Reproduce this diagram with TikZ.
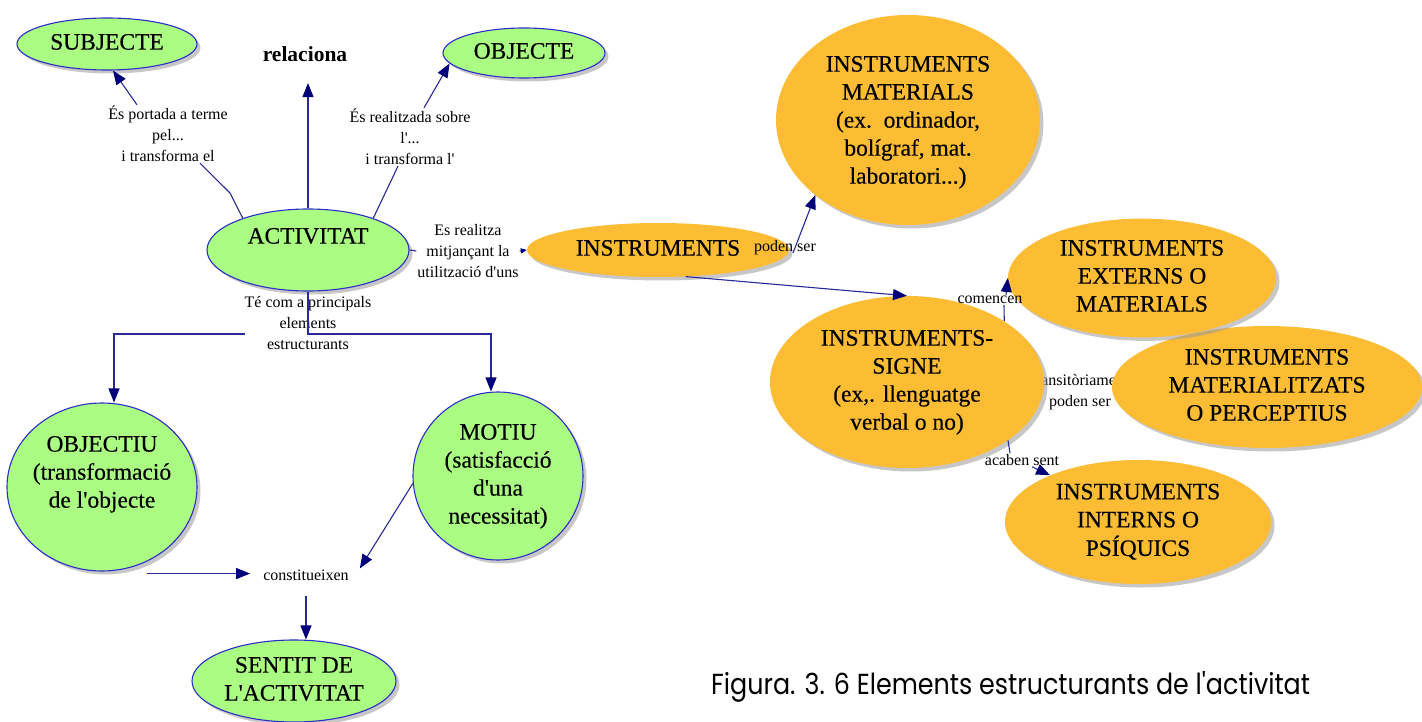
\documentclass[tikz,border=0pt]{standalone}
\usepackage{fontspec}
\setmainfont{Liberation Serif}[Ligatures=TeXOff]
\newfontfamily\conceptfont{Liberation Serif}[Ligatures=TeXOff,FakeBold=0.35]
\newfontfamily\capfont{Poppins}
\usetikzlibrary{shapes.geometric,arrows.meta,shadows}
\definecolor{leaf}{RGB}{170,252,130}
\definecolor{rim}{RGB}{45,45,200}
\definecolor{amber}{RGB}{252,188,52}
\definecolor{wire}{RGB}{40,40,150}
\definecolor{tipc}{RGB}{0,0,120}
% centred multi-line text of zero width, optionally raised
\newcommand\cellstack[2][0pt]{\makebox[0pt]{\raisebox{#1}[\height][\depth]{\begin{tabular}{@{}c@{}}#2\end{tabular}}}}
\begin{document}
\begin{tikzpicture}[x=1pt,y=-1pt,
  softshadow/.style={drop shadow={shadow xshift=3.5pt,shadow yshift=-3.5pt,fill=black!40,opacity=0.55}},
  green ell/.style={ellipse, draw=rim, line width=1.1pt, fill=leaf, inner sep=0pt,
    font=\conceptfont\fontsize{23.5}{28}\selectfont, softshadow},
  amber ell/.style={ellipse, fill=amber, inner sep=0pt,
    font=\conceptfont\fontsize{23.5}{28}\selectfont, softshadow},
  tag/.style={font=\fontsize{16}{21}\selectfont, align=center, inner sep=1pt},
  wirel/.style={draw=wire, line width=1.1pt},
  link/.style={wirel, -{Triangle[length=14pt,width=11pt,color=tipc]}},
  small link/.style={wirel, -{Triangle[length=6pt,width=5pt,color=tipc]}},
]
\useasboundingbox (0,0) rectangle (1422,722);

% ---- phrase that sits partly under the ellipses
\node[tag] (ltra) at (1080,392) {transitòriament\\poden ser};

% ---- green concepts
\node[green ell, minimum width=180pt, minimum height=52pt] (subjecte) at (107,44) {\cellstack{SUBJECTE}};
\node[font=\fontsize{21.5}{24}\selectfont\bfseries] (relaciona) at (305,54) {relaciona};
\node[green ell, minimum width=162pt, minimum height=50pt] (objecte) at (524,53) {\cellstack{OBJECTE}};
\node[green ell, minimum width=202pt, minimum height=82pt] (activitat) at (308,250) {\cellstack[12pt]{ACTIVITAT}};
\node[green ell, minimum width=190pt, minimum height=168pt] (objectiu) at (102,487) {\cellstack[13pt]{OBJECTIU\\(transformació\\de l'objecte}};
\node[green ell, minimum width=170pt, minimum height=168pt] (motiu) at (498,476) {\cellstack{MOTIU\\(satisfacció\\d'una\\necessitat)}};
\node[green ell, minimum width=204pt, minimum height=82pt] (sentit) at (294,681) {\cellstack{SENTIT DE\\L'ACTIVITAT}};

% ---- amber concepts
\node[amber ell, minimum width=262pt, minimum height=54pt] (instruments) at (658,250) {\cellstack{INSTRUMENTS}};
\node[amber ell, minimum width=264pt, minimum height=210pt] (materials) at (908,120) {\cellstack[-2pt]{INSTRUMENTS\\MATERIALS\\(ex.\ \ ordinador,\\bolígraf, mat.\\laboratori...)}};
\node[amber ell, minimum width=310pt, minimum height=122pt] (materialitzats) at (1267,387) {\cellstack{INSTRUMENTS\\MATERIALITZATS\\O PERCEPTIUS}};
\node[amber ell, minimum width=268pt, minimum height=116pt] (externs) at (1142,278) {\cellstack{INSTRUMENTS\\EXTERNS O\\MATERIALS}};
\node[amber ell, minimum width=274pt, minimum height=172pt] (signe) at (907,382) {\cellstack{INSTRUMENTS-\\SIGNE\\(ex,. llenguatge\\verbal o no)}};
\node[amber ell, minimum width=266pt, minimum height=124pt] (interns) at (1138,522) {\cellstack{INSTRUMENTS\\INTERNS O\\PSÍQUICS}};

% ---- linking phrases
\node[tag] (lsub) at (168,134) {És portada a terme\\pel...\\i transforma el};
\node[tag] (lobj) at (410,137) {És realitzada sobre\\l'...\\i transforma l'};
\node[tag] (lins) at (468,251) {Es realitza\\mitjançant la\\utilització d'uns};
\node[tag] (lprin) at (308,323) {Té com a principals\\elements\\estructurants};
\node[tag] (lpod) at (785,248) {poden ser};
\node[tag] (lcom) at (990,300) {comencen};
\node[tag] (laca) at (1022,460) {acaben sent};
\node[tag] (lcon) at (306,575) {constitueixen};

% ---- connectors
\coordinate (bendsub) at (230,193);
\draw[wirel] (activitat.154) -- (bendsub) -- ([xshift=32pt]lsub.south);
\draw[link] ([xshift=-31pt]lsub.north) -- ([xshift=6pt]subjecte.south);

\draw[link, shorten >=18pt] (activitat.north) -- (activitat.north |- relaciona.south);

\draw[wirel] (activitat.26) -- ([xshift=-12pt]lobj.south);
\draw[link] ([xshift=14pt]lobj.north) -- (objecte.188);

\draw[wirel] (activitat.east) -- (lins.west);
\draw[small link] (lins.east) -- (instruments.west);

\coordinate (podfoot) at (793,253);
\draw[link] (podfoot) -- (materials.219);
\draw[link] (instruments.-44) -- (signe.north);

\draw[wirel] (signe.32) -- ([xshift=14pt]lcom.south);
\draw[link] ([xshift=16pt]lcom.north) -- (externs.west);

\draw[wirel] (signe.-30) -- ([xshift=-12pt]laca.north);
\draw[link] ([xshift=10pt]laca.south) -- (interns.152);

\coordinate (prinleft) at (245,334);
\draw[link] (prinleft) -| ([xshift=12pt]objectiu.north);
\draw[link] (activitat.south) -- (activitat.south |- prinleft) -| ([xshift=-7pt]motiu.north);

\coordinate (objfoot) at ([xshift=45pt,yshift=-2pt]objectiu.south);
\draw[link, shorten >=12pt] (objfoot) -- (objfoot -| lcon.west);
\draw[link] (motiu.185) -- ([xshift=10pt]lcon.north east);
\draw[link] ([yshift=-14pt]lcon.south) -- (lcon.south |- sentit.north);

% ---- caption
\node[font=\capfont\fontsize{29}{34}\selectfont, anchor=west, inner sep=0pt, xscale=0.875] (caption) at (711,687) {Figura. 3. 6 Elements estructurants de l'activitat};
\end{tikzpicture}
\end{document}
